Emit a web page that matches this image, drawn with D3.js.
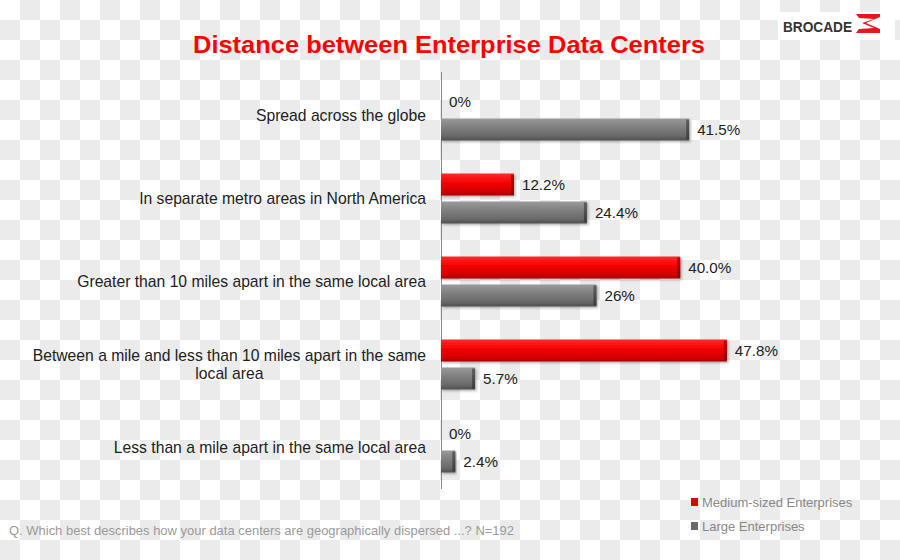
<!DOCTYPE html>
<html><head><meta charset="utf-8">
<script src="https://cdn.jsdelivr.net/npm/d3@7"></script>
<style>html,body{margin:0;padding:0;background:#fff;}svg{display:block;}</style>
</head><body>
<svg id="chart" width="900" height="560"></svg>
<script>
const categories = [
  ["Spread across the globe"],
  ["In separate metro areas in North America"],
  ["Greater than 10 miles apart in the same local area"],
  ["Between a mile and less than 10 miles apart in the same", "local area"],
  ["Less than a mile apart in the same local area"]
];
const seriesNames = ["Medium-sized Enterprises", "Large Enterprises"];
const mediumValues = [0, 12.2, 40.0, 47.8, 0];
const largeValues = [41.5, 24.4, 26, 5.7, 2.4];
const mediumLabels = ["0%", "12.2%", "40.0%", "47.8%", "0%"];
const largeLabels = ["41.5%", "24.4%", "26%", "5.7%", "2.4%"];
const titleText = "Distance between Enterprise Data Centers";
const footnote = "Q. Which best describes how your data centers are geographically dispersed ...? N=192";

const svg = d3.select("#chart");
const defs = svg.append("defs");

// checkerboard background
const pat = defs.append("pattern").attr("id","checker").attr("width",40).attr("height",40).attr("patternUnits","userSpaceOnUse");
pat.append("rect").attr("width",40).attr("height",40).attr("fill","#ffffff");
pat.append("rect").attr("x",20).attr("y",0).attr("width",20).attr("height",20).attr("fill","#ebebeb");
pat.append("rect").attr("x",0).attr("y",20).attr("width",20).attr("height",20).attr("fill","#ebebeb");
svg.append("rect").attr("width",900).attr("height",560).attr("fill","url(#checker)");

function grad(id, stops){
  const g = defs.append("linearGradient").attr("id",id).attr("x1",0).attr("y1",0).attr("x2",0).attr("y2",1);
  stops.forEach(s=>g.append("stop").attr("offset",s[0]).attr("stop-color",s[1]));
}
grad("gRed", [[0,"#ff2a2a"],[0.45,"#f20000"],[0.8,"#d40000"],[1,"#a80000"]]);
grad("gRedEnd", [[0,"#c80000"],[1,"#8a0000"]]);
grad("gGray", [[0,"#9a9a9a"],[0.45,"#7c7c7c"],[0.8,"#686868"],[1,"#4e4e4e"]]);
grad("gGrayEnd", [[0,"#5e5e5e"],[1,"#3e3e3e"]]);
const filt = defs.append("filter").attr("id","shadow").attr("x","-5%").attr("y","-30%").attr("width","115%").attr("height","170%");
filt.append("feDropShadow").attr("dx",1.5).attr("dy",1.5).attr("stdDeviation",1.2).attr("flood-color","#000").attr("flood-opacity",0.3);

const fills = {"Medium-sized Enterprises":["url(#gRed)","url(#gRedEnd)"], "Large Enterprises":["url(#gGray)","url(#gGrayEnd)"]};

// scales
const x = d3.scaleLinear().domain([0,50]).range([441, 740]);
const y0 = d3.scaleBand().domain(d3.range(categories.length)).range([74, 489]);
const bw = y0.bandwidth();
const y1 = d3.scaleBand().domain(seriesNames).range([bw/2-25, bw/2+25]).paddingInner(0.214);

// title
svg.append("text").attr("x",449).attr("y",53).attr("text-anchor","middle")
  .attr("font-family","Liberation Sans, Arial, sans-serif").attr("font-weight","bold")
  .attr("font-size",24).attr("fill","#ff0000").attr("textLength",512).attr("lengthAdjust","spacingAndGlyphs").text(titleText);

// logo
const logo = svg.append("g");
logo.append("rect").attr("x",778).attr("y",12).attr("width",117).attr("height",28).attr("fill","#ffffff");
logo.append("text").attr("x",783).attr("y",32).attr("font-family","Liberation Sans, Arial, sans-serif").attr("font-weight","bold")
  .attr("font-size",14).attr("fill","#333").attr("textLength",69).attr("lengthAdjust","spacingAndGlyphs").text("BROCADE");
logo.append("path").attr("d","M856,14 L880,14 L880,17 L866,23 L880,29 L880,33 L856,33 L859,29 L874,28 L862,23 L874,19 L859,18 Z").attr("fill","#e8141e");

// axis line
svg.append("line").attr("x1",441.5).attr("x2",441.5).attr("y1",72).attr("y2",489).attr("stroke","#888").attr("stroke-width",1);

const data = categories.map((c,i)=>({
  cat:i,
  vals:[
    {s:seriesNames[0], v:mediumValues[i], label:mediumLabels[i]},
    {s:seriesNames[1], v:largeValues[i], label:largeLabels[i]}
  ]
}));

const groups = svg.selectAll("g.cat").data(data).join("g").attr("class","cat")
  .attr("transform",d=>`translate(0,${y0(d.cat)})`);

const bars = groups.selectAll("g.bar").data(d=>d.vals).join("g").attr("class","bar");
bars.filter(d=>d.v>0).append("rect")
  .attr("x",x(0)).attr("y",d=>y1(d.s)).attr("width",d=>x(d.v)-x(0)).attr("height",y1.bandwidth())
  .attr("fill",d=>fills[d.s][0]).attr("filter","url(#shadow)");
bars.filter(d=>d.v>0).append("rect")
  .attr("x",d=>x(d.v)-3).attr("y",d=>y1(d.s)+1).attr("width",3).attr("height",y1.bandwidth()-2)
  .attr("fill",d=>fills[d.s][1]);
bars.append("text")
  .attr("x",d=>x(d.v)+8).attr("y",d=>y1(d.s)+y1.bandwidth()/2).attr("dy","0.35em")
  .attr("font-family","Liberation Sans, Arial, sans-serif").attr("font-size",15.2).attr("fill","#222")
  .text(d=>d.label);

// category labels
const catG = svg.selectAll("g.catlab").data(categories).join("g").attr("class","catlab");
catG.each(function(lines,i){
  const g = d3.select(this);
  const cy = y0(i) + bw/2;
  const n = lines.length;
  const t1 = g.append("text").attr("x",426).attr("y",cy - (n-1)*9).attr("dy","0.35em").attr("text-anchor","end")
    .attr("font-family","Liberation Sans, Arial, sans-serif").attr("font-size",15.7).attr("fill","#222").text(lines[0]);
  if(n>1){
    const w = t1.node().getComputedTextLength();
    g.append("text").attr("x",426 - w/2).attr("y",cy + 9).attr("dy","0.35em").attr("text-anchor","middle")
      .attr("font-family","Liberation Sans, Arial, sans-serif").attr("font-size",15.7).attr("fill","#222").text(lines[1]);
  }
});

// footnote
svg.append("text").attr("x",9).attr("y",535).attr("font-family","Liberation Sans, Arial, sans-serif")
  .attr("font-size",13.5).attr("fill","#9a9a9a").attr("textLength",505).attr("lengthAdjust","spacingAndGlyphs").text(footnote);

// legend
const legColors = ["#e00000","#6a6a6a"];
const leg = svg.selectAll("g.leg").data(seriesNames).join("g").attr("class","leg")
  .attr("transform",(d,i)=>`translate(691,${502 + i*24})`);
leg.append("rect").attr("x",0).attr("y",-4).attr("width",7).attr("height",8).attr("fill",(d,i)=>legColors[i]);
leg.append("text").attr("x",11).attr("y",0).attr("dy","0.35em").attr("font-family","Liberation Sans, Arial, sans-serif")
  .attr("font-size",13).attr("fill","#888").text(d=>d);
</script>
</body></html>
